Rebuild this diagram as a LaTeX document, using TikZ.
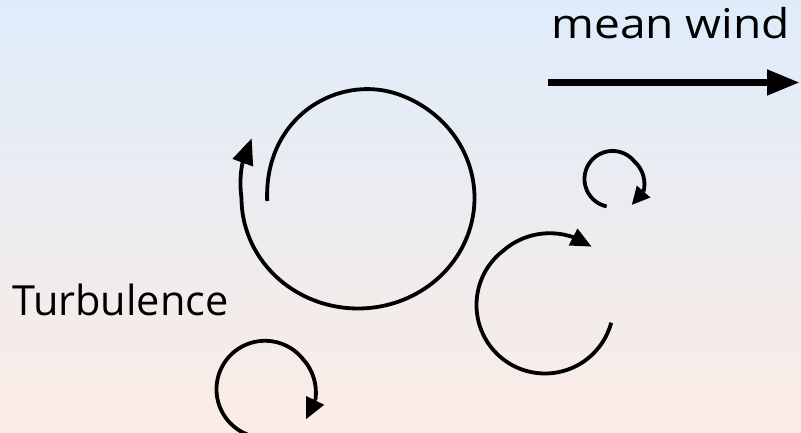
\documentclass[tikz,border=0pt]{standalone}
\usepackage{fontspec}
\setmainfont{Open Sans}
\usetikzlibrary{arrows.meta}
\definecolor{bgtop}{RGB}{222,236,250}
\definecolor{bgmid}{RGB}{243,246,249}
\definecolor{bgbot}{RGB}{251,236,229}
\begin{document}
\begin{tikzpicture}[x=1pt,y=1pt,
  curl/.style={line width=3.8pt, draw=black},
  headbig/.style={line width=3.8pt, -{Triangle[length=26pt,width=21pt]}},
  headmed/.style={line width=3.8pt, -{Triangle[length=21pt,width=18pt]}},
  headsmall/.style={line width=3.8pt, -{Triangle[length=18pt,width=17pt]}},
  headbl/.style={line width=3.8pt, -{Triangle[length=21pt,width=19pt]}},
  windarrow/.style={line width=7.5pt, -{Triangle[length=33pt,width=24pt]}},
  lbl/.style={inner sep=0pt, text=black},
  declare function={
    bigT(\t)=min(1,(182-\t)/112);
    bigR(\t)=0.78+0.22*(3*bigT(\t)*bigT(\t)-2*bigT(\t)*bigT(\t)*bigT(\t))+0.04*max(0,(-180-\t)/17);
    mR(\t)=68.5+5*max(0,(-233-\t)/60);
    sR(\t)=28+5.5*max(0,(38-\t)/60);
    bR(\t)=48.5+3*max(0,(38-\t)/50);
  }]
\useasboundingbox (0,0) rectangle (801,433);
\begin{scope}
\clip (0,0) rectangle (801,433);
\shade[top color=bgtop, middle color=bgmid, bottom color=bgbot] (0,0) rectangle (801,433);

% texts
\node[lbl, anchor=base west, xscale=1.125, transform shape] (wind) at (551,394.5)
  {\fontsize{41}{48}\selectfont mean wind};
\node[lbl, anchor=base west] (turb) at (12,117)
  {\fontsize{41.5}{48}\selectfont Turbulence};

% mean wind arrow
\coordinate (windstart) at (548,350.5);
\coordinate (windend) at (800,350.5);
\draw[windarrow] (windstart) -- (windend);

% big spiral
\draw[curl] plot[domain=182:-197, samples=260, variable=\t]
  ({358+116.5*bigR(\t)*cos(\t)}, {235+110.5*bigR(\t)*sin(\t)}) coordinate (bigend);
\coordinate (bigtip) at (251.7,294.7);
\draw[headbig] (bigend) -- (bigtip);

% medium C
\draw[curl] plot[domain=-15:-293, samples=160, variable=\t]
  ({545+mR(\t)*cos(\t)}, {128+mR(\t)*sin(\t)}) coordinate (medend);
\coordinate (medtip) at (591.7,186.3);
\draw[headmed] (medend) -- (medtip);

% small curl (upper right)
\draw[curl] plot[domain=258:-22, samples=140, variable=\t]
  ({612.5+sR(\t)*cos(\t)}, {254+sR(\t)*sin(\t)}) coordinate (smallend);
\coordinate (smalltip) at (631.7,228);
\draw[headsmall] (smallend) -- (smalltip);

% bottom-left curl
\draw[curl] plot[domain=249:-12, samples=150, variable=\t]
  ({265+bR(\t)*cos(\t)}, {43.7+bR(\t)*sin(\t)}) coordinate (blend);
\coordinate (bltip) at (306,13.7);
\draw[headbl] (blend) -- (bltip);
\end{scope}
\end{tikzpicture}
\end{document}
